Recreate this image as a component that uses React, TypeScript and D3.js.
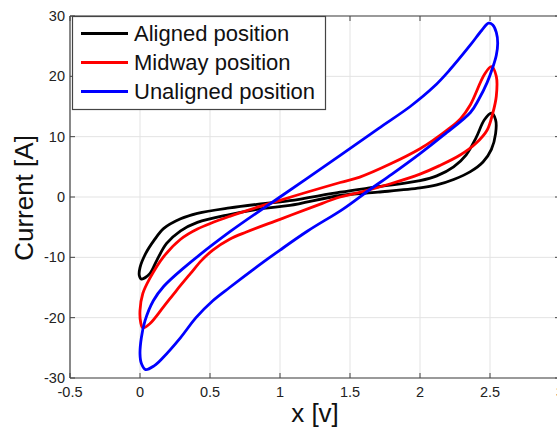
import React from "react";
import * as d3 from "d3";

const xTicks = [-0.5, 0, 0.5, 1, 1.5, 2, 2.5, 3];
const yTicks = [-30, -20, -10, 0, 10, 20, 30];
const seriesNames = ["Aligned position", "Midway position", "Unaligned position"];
const seriesColors = ["#000000", "#ff0000", "#0000ff"];

const aligned: [number, number][] = [
  [0.01, -13.6], [0.07, -12.7], [0.12, -10.5], [0.19, -7.7], [0.29, -5.6], [0.41, -4.2],
  [0.64, -2.9], [0.88, -1.9], [1.07, -1.4], [1.43, 0.25], [1.7, 0.8], [2.0, 1.5], [2.12, 2.0],
  [2.24, 2.9], [2.36, 4.2], [2.45, 5.8], [2.51, 7.9], [2.54, 10.5], [2.54, 12.8], [2.51, 13.9],
  [2.46, 12.8], [2.40, 9.8], [2.33, 7.0], [2.24, 5.0], [2.12, 3.5], [2.0, 2.7], [1.7, 1.7],
  [1.43, 0.8], [1.07, -0.6], [0.88, -1.1], [0.64, -1.8], [0.41, -2.7], [0.29, -3.6],
  [0.17, -5.2], [0.1, -7.2], [0.04, -9.4], [0.0, -11.7], [-0.005, -13.0],
];

const midway: [number, number][] = [
  [0.02, -21.7], [0.07, -21.0], [0.165, -18.3], [0.26, -15.5], [0.36, -12.7], [0.44, -10.5],
  [0.52, -8.8], [0.64, -7.0], [0.76, -5.8], [1.0, -3.7], [1.24, -1.6], [1.43, 0.0], [1.59, 0.9],
  [1.79, 2.2], [2.0, 3.8], [2.14, 5.2], [2.29, 7.0], [2.40, 8.9], [2.48, 11.1], [2.52, 13.9],
  [2.545, 16.7], [2.545, 20.0], [2.51, 21.6], [2.46, 20.3], [2.36, 15.3], [2.29, 13.0],
  [2.2, 11.2], [2.1, 9.5], [2.0, 8.0], [1.79, 5.5], [1.57, 3.3], [1.43, 2.4], [1.0, -0.55],
  [0.64, -3.2], [0.41, -5.3], [0.29, -7.0], [0.165, -10.0], [0.07, -13.5], [0.02, -16.0],
  [0.0, -18.8], [0.005, -20.8],
];

const unaligned: [number, number][] = [
  [0.04, -28.6], [0.1, -28.0], [0.165, -26.6], [0.29, -23.3], [0.40, -20.0], [0.52, -17.2],
  [0.64, -15.0], [0.88, -10.8], [1.0, -8.8], [1.2, -5.6], [1.45, -2.0], [1.64, 1.2], [1.8, 3.8],
  [2.0, 7.2], [2.17, 10.3], [2.36, 14.0], [2.42, 16.2], [2.48, 19.0], [2.52, 21.5], [2.545, 23.5],
  [2.555, 25.5], [2.545, 27.3], [2.52, 28.5], [2.49, 28.8], [2.44, 27.6], [2.36, 25.2],
  [2.21, 21.0], [2.1, 18.3], [1.93, 15.0], [1.7, 11.3], [1.43, 6.9], [1.0, 0.0], [0.64, -5.8],
  [0.3, -12.0], [0.17, -14.8], [0.095, -17.2], [0.036, -20.5], [0.01, -23.3], [0.0, -26.0],
  [0.01, -27.6],
];

const allSeries = [aligned, midway, unaligned];

const W = 557;
const H = 430;
const left = 70;
const right = 560;
const top = 16;
const bottom = 378;
const font = "'Liberation Sans', Arial, Helvetica, sans-serif";

export default function App() {
  const x = d3.scaleLinear().domain([-0.5, 3]).range([left, right]);
  const y = d3.scaleLinear().domain([-30, 30]).range([bottom, top]);
  const line = d3
    .line<[number, number]>()
    .x((d) => x(d[0]))
    .y((d) => y(d[1]))
    .curve(d3.curveCatmullRomClosed.alpha(0.5));
  const axisColor = "#444";
  return (
    <svg
      width={W}
      height={H}
      style={{ position: "absolute", left: 0, top: 0, background: "#fff" }}
      fontFamily={font}
    >
      <rect x={0} y={0} width={W} height={H} fill="#fff" />
      {xTicks.map((t) => (
        <line key={"gx" + t} x1={x(t)} x2={x(t)} y1={top} y2={bottom} stroke="#e3e3e3" strokeWidth={1} />
      ))}
      {yTicks.map((t) => (
        <line key={"gy" + t} x1={left} x2={right} y1={y(t)} y2={y(t)} stroke="#e3e3e3" strokeWidth={1} />
      ))}
      {allSeries.map((s, i) => (
        <path key={"s" + i} d={line(s) || ""} fill="none" stroke={seriesColors[i]} strokeWidth={2.8} strokeLinejoin="round" />
      ))}
      <line x1={left} x2={right} y1={bottom} y2={bottom} stroke={axisColor} strokeWidth={1.2} />
      <line x1={left} x2={right} y1={top} y2={top} stroke={axisColor} strokeWidth={1.2} />
      <line x1={left} x2={left} y1={top} y2={bottom} stroke={axisColor} strokeWidth={1.2} />
      <line x1={right} x2={right} y1={top} y2={bottom} stroke={axisColor} strokeWidth={1.2} />
      {xTicks.map((t) => (
        <g key={"tx" + t}>
          <line x1={x(t)} x2={x(t)} y1={bottom} y2={bottom - 5} stroke={axisColor} />
          <line x1={x(t)} x2={x(t)} y1={top} y2={top + 5} stroke={axisColor} />
          <text x={x(t)} y={397} fontSize={14.5} textAnchor="middle" fill="#222">
            {String(t)}
          </text>
        </g>
      ))}
      {yTicks.map((t) => (
        <g key={"ty" + t}>
          <line x1={left} x2={left + 5} y1={y(t)} y2={y(t)} stroke={axisColor} />
          <line x1={right} x2={right - 5} y1={y(t)} y2={y(t)} stroke={axisColor} />
          <text x={65} y={y(t) + 5} fontSize={14.5} textAnchor="end" fill="#222">
            {String(t)}
          </text>
        </g>
      ))}
      <text x={315} y={422} fontSize={26} textAnchor="middle" fill="#111">
        x [v]
      </text>
      <text transform={`translate(33,198) rotate(-90)`} fontSize={26} textAnchor="middle" fill="#111">
        Current [A]
      </text>
      <rect x={72.5} y={16.5} width={253} height={93} fill="#fff" stroke={axisColor} strokeWidth={1.2} />
      {seriesNames.map((n, i) => (
        <g key={"l" + i}>
          <line x1={81} x2={128} y1={33.5 + i * 29} y2={33.5 + i * 29} stroke={seriesColors[i]} strokeWidth={3} />
          <text x={134} y={41 + i * 29} fontSize={22} fill="#111">
            {n}
          </text>
        </g>
      ))}
    </svg>
  );
}
